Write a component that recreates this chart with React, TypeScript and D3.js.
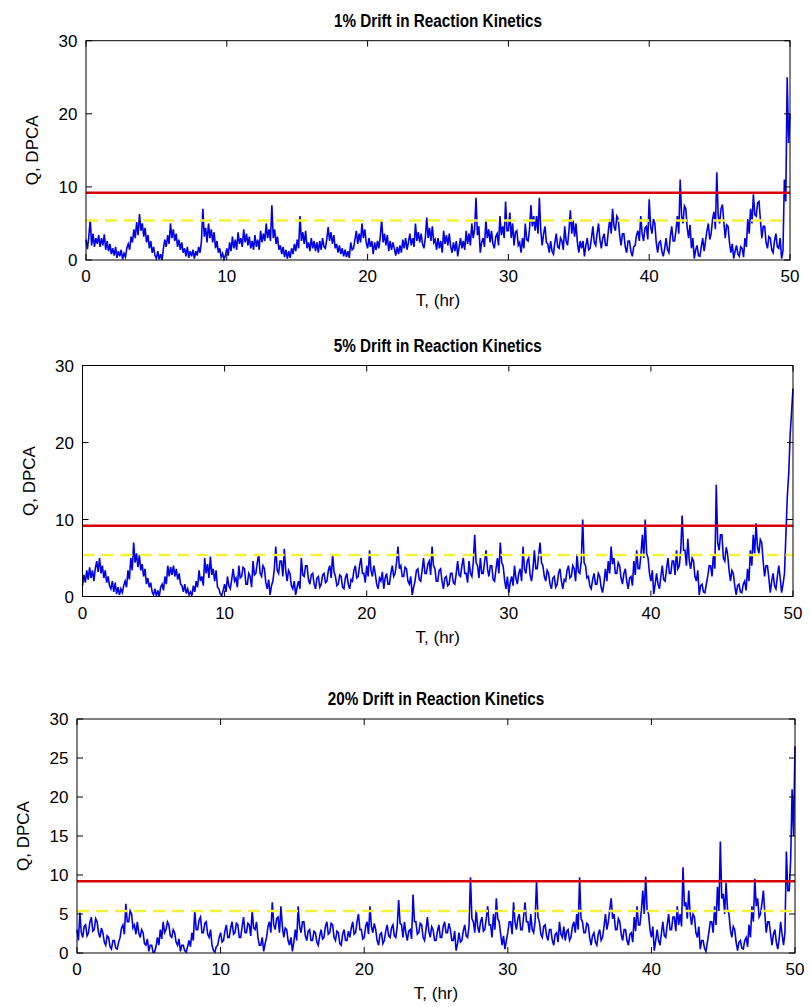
import React, { useEffect } from 'react';
import * as d3 from 'd3';

// ---------- data ----------
const T_STEP_HR = 0.1; // sample spacing of the series below, hours (one row = one hour)
const xTicks = [0, 10, 20, 30, 40, 50];
const yTicksCoarse = [0, 10, 20, 30];
const yTicksFine = [0, 5, 10, 15, 20, 25, 30];
const titles = [
  '1% Drift in Reaction Kinetics',
  '5% Drift in Reaction Kinetics',
  '20% Drift in Reaction Kinetics',
];
const xLabel = 'T, (hr)';
const yLabel = 'Q, DPCA';
const qLimit99 = 9.2; // red solid control limit
const qLimit95 = 5.4; // yellow dashed control limit

const q1 = [
  2.8, 1.5, 3.2, 5.5, 2.0, 3.6, 1.8, 3.0, 2.2, 3.4,
  1.8, 3.0, 2.0, 3.5, 1.4, 2.6, 1.2, 2.2, 0.8, 1.6,
  0.6, 1.8, 0.3, 1.2, 0.5, 1.4, 0.1, 0.9, 0.4, 1.6,
  2.2, 1.4, 3.2, 2.4, 4.2, 3.0, 5.2, 3.4, 6.3, 4.0,
  5.0, 3.2, 4.4, 2.4, 3.4, 1.6, 2.6, 1.0, 1.8, 0.6,
  0.2, 1.2, 0.1, 0.8, 0.0, 1.6, 2.8, 1.8, 3.4, 2.2,
  5.0, 3.0, 4.2, 2.6, 3.6, 1.8, 2.8, 1.4, 2.4, 1.0,
  1.6, 0.5, 1.8, 0.3, 1.2, 0.5, 1.4, 0.2, 1.2, 0.6,
  1.8, 1.0, 2.6, 7.0, 3.2, 4.4, 2.4, 5.0, 3.0, 4.2,
  2.4, 3.8, 1.6, 2.6, 1.0, 1.6, 0.4, 0.9, 0.1, 0.6,
  1.6, 0.6, 2.4, 1.2, 3.2, 1.6, 2.8, 1.4, 3.8, 2.2,
  3.0, 1.8, 4.2, 2.4, 3.6, 2.0, 3.2, 1.6, 2.6, 1.4,
  3.4, 1.8, 2.8, 1.4, 4.0, 2.4, 3.6, 2.6, 5.0, 3.0,
  4.2, 2.6, 7.5, 3.0, 4.2, 2.2, 3.2, 1.4, 2.0, 0.8,
  1.8, 0.4, 1.4, 0.2, 1.2, 0.3, 1.6, 0.8, 2.2, 1.2,
  2.8, 1.6, 6.0, 2.6, 3.8, 2.2, 4.0, 1.6, 2.4, 1.2,
  3.0, 1.6, 2.6, 1.2, 2.4, 1.0, 2.6, 1.4, 3.0, 1.8,
  1.6, 2.8, 4.5, 2.6, 3.8, 2.2, 3.4, 1.6, 2.2, 1.0,
  2.0, 0.8, 1.6, 0.5, 1.4, 0.4, 1.2, 0.3, 2.4, 1.4,
  1.6, 2.8, 4.0, 2.2, 3.6, 2.4, 5.0, 3.0, 4.2, 2.4,
  1.6, 3.0, 1.8, 2.6, 0.8, 2.4, 1.4, 2.6, 1.6, 3.2,
  5.5, 2.4, 3.6, 2.0, 3.4, 1.2, 2.6, 1.4, 2.4, 1.6,
  0.6, 1.8, 0.8, 2.0, 1.0, 2.8, 1.6, 3.0, 1.4, 2.4,
  3.6, 2.0, 3.0, 1.8, 5.0, 2.6, 3.8, 2.4, 3.6, 2.2,
  1.6, 3.0, 5.8, 3.0, 4.4, 2.6, 4.6, 2.4, 2.8, 1.4,
  3.0, 1.6, 2.6, 1.0, 4.0, 2.2, 3.4, 2.0, 3.6, 1.8,
  1.0, 2.4, 1.2, 2.6, 0.5, 1.8, 3.0, 1.6, 2.6, 1.4,
  4.0, 2.2, 3.6, 2.0, 5.0, 3.0, 4.2, 8.5, 3.4, 4.6,
  1.0, 2.4, 3.0, 1.8, 5.5, 3.0, 4.2, 2.4, 4.0, 2.2,
  1.6, 3.2, 3.6, 2.0, 6.0, 3.4, 4.6, 3.0, 8.0, 4.0,
  4.0, 6.5, 3.0, 5.0, 2.0, 3.8, 4.0, 2.0, 2.4, 1.0,
  3.0, 1.6, 5.0, 2.8, 2.6, 4.2, 7.5, 4.6, 6.0, 4.0,
  6.0, 3.6, 8.5, 4.0, 2.0, 3.6, 4.6, 2.4, 2.2, 1.0,
  2.6, 1.2, 0.8, 2.4, 3.6, 1.8, 1.6, 3.0, 2.6, 1.4,
  4.6, 2.6, 2.0, 4.0, 6.8, 3.6, 5.4, 3.2, 5.0, 2.4,
  1.0, 2.6, 1.6, 2.6, 0.5, 2.0, 3.0, 1.4, 1.6, 3.0,
  4.6, 2.4, 2.0, 3.6, 5.0, 2.8, 1.6, 3.0, 3.6, 2.0,
  2.0, 4.0, 5.6, 3.6, 7.0, 4.6, 4.0, 6.0, 5.6, 3.4,
  2.0, 3.6, 3.6, 1.8, 1.0, 2.6, 2.6, 1.2, 0.5, 1.8,
  2.0, 3.4, 4.0, 2.6, 6.0, 3.6, 2.6, 4.4, 4.6, 2.8,
  8.3, 4.6, 3.6, 5.6, 5.0, 2.4, 1.0, 2.4, 2.6, 1.2,
  0.5, 1.6, 3.0, 1.4, 1.0, 3.2, 4.6, 2.6, 2.6, 4.0,
  6.0, 3.6, 11.0, 6.0, 5.0, 7.4, 7.0, 4.4, 3.0, 4.8,
  1.6, 3.0, 0.2, 1.4, 2.0, 0.6, 0.5, 1.8, 3.0, 1.2,
  2.6, 4.0, 5.0, 2.8, 3.6, 5.6, 6.6, 4.2, 12.0, 6.0,
  5.0, 7.0, 7.6, 5.2, 3.0, 4.8, 4.6, 2.4, 1.0, 2.2,
  0.2, 1.2, 2.0, 0.8, 0.5, 1.8, 1.6, 0.4, 3.0, 1.8,
  5.6, 3.6, 7.0, 5.0, 9.0, 6.2, 6.0, 7.8, 8.0, 5.4,
  3.0, 4.6, 4.6, 2.4, 1.6, 3.2, 3.0, 1.4, 1.0, 2.6,
  3.6, 1.8, 1.6, 3.0, 0.2, 1.2, 11.0, 8.0, 25.0, 16.0,
  20.0,
];

const q2 = [
  1.4, 2.8, 1.8, 3.4, 2.2, 3.8, 2.4, 3.4, 2.0, 3.6,
  4.6, 3.2, 5.0, 3.0, 4.0, 2.4, 3.4, 1.8, 2.6, 1.4,
  1.0, 2.0, 0.6, 1.8, 0.3, 1.2, 0.2, 1.0, 0.5, 1.4,
  2.0, 1.2, 3.4, 2.2, 5.0, 3.4, 7.0, 4.4, 5.6, 3.8,
  5.4, 3.4, 4.2, 2.6, 3.6, 1.6, 2.4, 1.2, 1.8, 0.6,
  0.2, 1.0, 0.1, 0.8, 0.0, 1.2, 1.6, 0.8, 2.6, 1.6,
  4.0, 2.6, 3.8, 2.8, 4.0, 2.6, 3.6, 2.2, 3.0, 1.6,
  1.4, 0.6, 1.6, 0.4, 1.0, 0.2, 0.6, 0.1, 1.4, 0.6,
  2.0, 1.2, 3.4, 2.0, 2.6, 1.4, 5.0, 3.0, 4.2, 2.4,
  5.2, 2.8, 3.6, 2.0, 3.4, 1.2, 1.0, 0.3, 0.1, 0.8,
  1.6, 0.6, 2.6, 1.4, 1.0, 2.2, 3.6, 2.0, 2.4, 1.2,
  4.0, 2.4, 2.6, 3.8, 3.6, 1.6, 1.6, 3.0, 2.6, 1.2,
  4.6, 2.8, 3.0, 4.4, 5.5, 3.0, 2.6, 4.0, 3.6, 1.8,
  1.0, 2.2, 0.2, 1.4, 2.0, 3.6, 6.5, 3.4, 3.0, 4.6,
  4.6, 2.6, 6.2, 3.4, 2.0, 3.4, 3.0, 1.4, 1.0, 2.0,
  0.2, 1.2, 2.0, 1.0, 5.0, 2.8, 2.6, 4.0, 4.0, 2.2,
  1.6, 2.8, 3.0, 1.6, 1.0, 2.4, 2.6, 1.2, 1.6, 2.8,
  3.0, 1.8, 2.0, 3.4, 4.0, 2.4, 5.5, 3.2, 2.6, 1.4,
  1.6, 2.8, 2.6, 1.2, 1.0, 2.4, 3.0, 1.6, 1.0, 2.2,
  2.0, 3.4, 4.0, 2.4, 2.6, 4.0, 5.0, 3.0, 3.0, 1.8,
  4.0, 2.6, 6.0, 3.4, 2.6, 4.0, 3.0, 1.6, 1.0, 2.4,
  2.0, 3.2, 1.0, 2.4, 3.0, 1.6, 1.6, 3.0, 4.0, 2.6,
  3.0, 4.4, 6.5, 3.6, 4.0, 2.6, 2.6, 3.8, 3.6, 2.0,
  1.6, 2.6, 0.2, 1.2, 2.0, 3.4, 3.6, 2.2, 2.0, 3.4,
  5.0, 3.0, 3.0, 4.2, 4.6, 2.8, 6.5, 4.0, 3.6, 2.0,
  2.0, 3.4, 3.6, 2.0, 1.0, 2.4, 2.6, 1.4, 1.6, 3.0,
  3.0, 1.8, 1.6, 3.0, 4.6, 2.8, 2.6, 4.0, 5.0, 3.0,
  3.0, 1.8, 4.6, 3.0, 2.6, 4.4, 8.0, 4.4, 4.0, 2.4,
  5.0, 3.0, 3.0, 4.6, 6.0, 3.6, 2.6, 4.0, 4.0, 2.2,
  2.0, 3.6, 5.0, 3.0, 7.0, 4.4, 4.0, 2.2, 1.0, 2.6,
  0.5, 1.8, 2.6, 1.4, 4.0, 2.4, 1.6, 3.0, 3.6, 2.0,
  6.5, 3.6, 3.0, 4.6, 5.0, 2.8, 2.0, 3.6, 6.0, 3.6,
  3.6, 5.4, 7.0, 4.4, 4.0, 2.6, 2.0, 3.4, 3.0, 1.6,
  1.0, 2.4, 2.6, 1.2, 1.6, 3.0, 3.6, 2.0, 1.0, 2.2,
  2.0, 3.4, 4.0, 2.4, 2.6, 4.0, 3.6, 2.0, 5.5, 3.2,
  3.0, 4.6, 10.0, 4.4, 4.0, 2.4, 2.6, 1.4, 1.0, 2.2,
  3.0, 1.6, 1.6, 3.0, 2.6, 1.2, 0.5, 1.8, 3.6, 2.0,
  4.6, 3.0, 6.5, 4.2, 5.0, 3.0, 3.0, 4.4, 4.0, 2.4,
  1.6, 3.0, 3.6, 2.0, 1.0, 2.4, 2.6, 1.4, 4.6, 2.8,
  6.0, 3.6, 3.6, 5.4, 8.0, 5.0, 10.0, 5.6, 5.0, 3.0,
  2.0, 3.4, 0.3, 1.6, 3.0, 1.6, 1.0, 2.6, 4.0, 2.2,
  2.0, 3.6, 5.0, 3.0, 3.0, 4.6, 4.6, 2.8, 6.0, 3.6,
  4.0, 6.0, 10.5, 6.0, 6.0, 4.0, 7.5, 4.6, 3.6, 5.0,
  4.6, 2.6, 2.0, 3.4, 0.2, 1.4, 1.6, 0.6, 0.5, 1.6,
  2.6, 4.0, 4.0, 2.6, 5.5, 3.6, 14.5, 7.0, 6.0, 8.0,
  8.0, 5.0, 4.6, 6.4, 5.5, 3.4, 2.0, 3.4, 3.0, 1.4,
  0.2, 1.4, 1.6, 0.6, 0.5, 1.6, 2.0, 0.8, 3.6, 2.0,
  6.0, 4.0, 8.0, 5.6, 9.5, 6.4, 5.6, 7.4, 7.0, 4.6,
  2.6, 4.0, 4.0, 2.4, 0.5, 2.0, 3.0, 1.4, 1.0, 2.6,
  4.0, 2.4, 0.5, 1.6, 3.0, 8.0, 13.0, 16.0, 21.0, 24.0,
  27.0,
];

const q3 = [
  3.0, 1.6, 5.2, 2.6, 2.0, 3.4, 3.6, 2.2, 2.6, 4.0,
  4.6, 2.8, 3.0, 4.4, 4.0, 2.6, 2.0, 3.2, 2.6, 1.4,
  1.0, 2.2, 2.0, 0.8, 0.5, 1.6, 1.6, 0.6, 0.5, 1.4,
  2.0, 3.2, 3.6, 2.4, 6.3, 4.0, 4.0, 5.4, 5.0, 3.2,
  3.6, 2.4, 4.0, 2.6, 2.0, 3.0, 2.6, 1.2, 1.0, 1.8,
  0.2, 1.0, 1.0, 0.1, 0.1, 0.8, 2.0, 1.0, 3.0, 1.8,
  4.0, 2.6, 3.0, 4.0, 3.6, 2.2, 2.0, 3.0, 2.6, 1.4,
  1.0, 1.8, 0.2, 1.0, 1.0, 0.3, 0.1, 0.8, 1.6, 0.8,
  2.6, 1.6, 5.5, 3.0, 3.0, 4.2, 4.6, 2.6, 2.6, 3.8,
  4.0, 2.4, 2.0, 3.0, 1.0, 0.3, 0.1, 0.8, 1.0, 2.0,
  2.6, 1.4, 1.6, 2.8, 3.6, 2.0, 2.0, 3.2, 4.0, 2.4,
  2.6, 3.8, 3.6, 2.0, 2.0, 3.4, 4.6, 2.6, 2.6, 3.8,
  3.6, 2.2, 5.5, 3.2, 3.0, 4.0, 2.0, 1.0, 1.0, 2.0,
  0.2, 1.2, 2.0, 3.4, 4.0, 2.6, 6.5, 3.6, 3.0, 4.4,
  4.6, 2.6, 6.0, 3.4, 2.0, 3.2, 3.0, 1.6, 1.0, 2.0,
  0.2, 1.4, 3.0, 1.6, 6.0, 3.4, 2.6, 4.0, 4.0, 2.2,
  1.6, 2.8, 3.0, 1.6, 1.6, 2.8, 2.6, 1.4, 1.0, 2.2,
  3.0, 1.8, 2.0, 3.4, 4.0, 2.4, 2.6, 3.8, 3.6, 2.0,
  1.6, 2.8, 2.6, 1.2, 1.0, 2.4, 3.0, 1.6, 1.6, 2.8,
  2.0, 3.2, 4.0, 2.4, 2.6, 4.0, 5.0, 3.0, 3.0, 1.8,
  2.0, 3.4, 4.0, 2.4, 6.0, 3.4, 2.6, 3.8, 3.0, 1.6,
  1.0, 2.4, 2.6, 1.2, 1.6, 2.8, 3.6, 2.2, 2.0, 3.2,
  3.6, 2.2, 2.0, 3.4, 6.8, 3.8, 3.6, 2.0, 4.0, 2.6,
  1.6, 2.8, 3.0, 1.8, 7.5, 4.0, 4.0, 2.4, 2.6, 3.8,
  3.6, 2.0, 1.6, 3.0, 4.6, 2.8, 2.0, 3.4, 3.0, 1.6,
  1.6, 2.8, 3.6, 2.0, 2.0, 3.4, 4.0, 2.6, 2.6, 3.8,
  3.0, 1.6, 1.6, 2.8, 0.3, 1.2, 2.6, 1.4, 1.6, 2.8,
  3.6, 2.2, 2.0, 3.4, 9.7, 4.4, 4.0, 2.6, 5.5, 3.4,
  2.6, 4.0, 4.6, 2.8, 3.0, 4.4, 6.0, 3.6, 3.6, 2.0,
  5.0, 3.0, 7.0, 4.4, 4.0, 2.4, 1.0, 2.2, 0.5, 1.6,
  2.6, 4.0, 4.0, 2.4, 6.5, 4.0, 3.0, 4.4, 5.0, 3.0,
  3.0, 4.6, 6.5, 4.0, 4.0, 2.6, 5.0, 3.0, 2.6, 4.0,
  9.3, 4.6, 4.0, 2.4, 2.0, 3.4, 3.6, 2.2, 1.6, 3.0,
  3.0, 1.6, 1.0, 2.4, 2.6, 1.4, 4.0, 2.4, 2.0, 3.4,
  1.6, 2.8, 3.0, 1.6, 2.0, 3.4, 4.0, 2.6, 5.0, 3.0,
  9.7, 4.4, 4.0, 2.6, 2.6, 3.8, 3.6, 2.0, 1.0, 2.2,
  2.6, 1.4, 1.0, 2.4, 3.0, 1.6, 2.0, 3.4, 5.0, 3.0,
  4.0, 5.6, 7.0, 4.4, 5.0, 3.0, 3.0, 4.4, 4.0, 2.4,
  1.6, 3.0, 3.0, 1.6, 1.0, 2.4, 2.6, 1.4, 4.6, 2.8,
  6.0, 3.6, 3.6, 5.4, 8.0, 5.0, 9.8, 5.6, 5.0, 3.0,
  2.0, 3.4, 0.3, 1.6, 3.0, 1.6, 1.0, 2.6, 4.0, 2.2,
  2.0, 3.6, 5.0, 3.0, 3.0, 4.6, 4.6, 2.8, 6.0, 3.6,
  5.0, 3.4, 11.0, 6.0, 6.5, 4.4, 8.0, 5.0, 3.6, 5.0,
  4.6, 2.6, 2.0, 3.4, 0.5, 1.6, 1.6, 0.6, 0.2, 1.4,
  2.6, 4.0, 4.0, 2.6, 6.0, 3.6, 8.5, 5.4, 14.3, 7.0,
  7.6, 5.0, 9.0, 5.6, 5.0, 3.0, 2.0, 3.4, 3.0, 1.4,
  0.3, 1.4, 1.6, 0.6, 0.5, 1.6, 2.0, 0.8, 3.6, 2.0,
  6.0, 4.0, 9.5, 6.0, 7.0, 4.6, 5.0, 6.4, 8.0, 5.0,
  2.6, 4.0, 4.0, 2.4, 1.0, 2.4, 3.0, 1.4, 0.5, 1.8,
  4.0, 2.4, 1.0, 2.6, 13.0, 8.0, 8.0, 12.0, 21.0, 15.0,
  26.5,
];

// ---------- layout ----------
const W = 811;
const H = 1007;
const panels = [
  { series: q1, yTicks: yTicksCoarse, left: 86, right: 790, top: 40.7, bottom: 260, titleY: 26.5 },
  { series: q2, yTicks: yTicksCoarse, left: 82.5, right: 793, top: 365.5, bottom: 596.5, titleY: 352 },
  { series: q3, yTicks: yTicksFine, left: 77, right: 795, top: 719, bottom: 953, titleY: 705 },
];

const FONT = "'Liberation Sans', Arial, Helvetica, sans-serif";
const TITLE_FONT = "'Liberation Sans Narrow', 'Arial Narrow', 'Liberation Sans', Arial, sans-serif";
const TICK_LEN = 6;

function Panel({ p, title }: { p: any; title: string }) {
  const x = d3.scaleLinear().domain([0, 50]).range([p.left, p.right]);
  const y = d3.scaleLinear().domain([0, 30]).range([p.bottom, p.top]);
  const line = d3
    .line<number>()
    .x((_d, i) => x(i * T_STEP_HR))
    .y((d) => y(d));
  const cx = (p.left + p.right) / 2;
  const cy = (p.top + p.bottom) / 2;
  return (
    <g>
      <text
        transform={`translate(${cx},${p.titleY}) scale(0.9,1.1)`}
        textAnchor="middle"
        fontFamily={TITLE_FONT}
        fontWeight="bold"
        fontSize={17}
        fill="#000"
      >
        {title}
      </text>
      <path
        d={line(p.series) || ''}
        fill="none"
        stroke="#0000e6"
        strokeWidth={1.6}
        strokeLinejoin="miter"
      />
      <line
        x1={x(0)}
        x2={x(50)}
        y1={y(qLimit95)}
        y2={y(qLimit95)}
        stroke="#f2f23a"
        strokeWidth={2.5}
        strokeDasharray="12 7"
      />
      <line x1={x(0)} x2={x(50)} y1={y(qLimit99)} y2={y(qLimit99)} stroke="#d80000" strokeWidth={2.5} />
      <rect
        x={p.left}
        y={p.top}
        width={p.right - p.left}
        height={p.bottom - p.top}
        fill="none"
        stroke="#000"
        strokeWidth={1}
      />
      {xTicks.map((t) => (
        <g key={'x' + t}>
          <line x1={x(t)} x2={x(t)} y1={p.bottom} y2={p.bottom - TICK_LEN} stroke="#000" />
          <line x1={x(t)} x2={x(t)} y1={p.top} y2={p.top + TICK_LEN} stroke="#000" />
          <text
            x={x(t)}
            y={p.bottom + 22}
            textAnchor="middle"
            fontFamily={FONT}
            fontSize={17}
            fill="#000"
          >
            {t}
          </text>
        </g>
      ))}
      {p.yTicks.map((t: number) => (
        <g key={'y' + t}>
          <line x1={p.left} x2={p.left + TICK_LEN} y1={y(t)} y2={y(t)} stroke="#000" />
          <line x1={p.right} x2={p.right - TICK_LEN} y1={y(t)} y2={y(t)} stroke="#000" />
          <text
            x={p.left - 8.5}
            y={y(t)}
            dy="0.36em"
            textAnchor="end"
            fontFamily={FONT}
            fontSize={17}
            fill="#000"
          >
            {t}
          </text>
        </g>
      ))}
      <text
        x={cx}
        y={p.bottom + 46}
        textAnchor="middle"
        fontFamily={FONT}
        fontSize={17}
        fill="#000"
      >
        {xLabel}
      </text>
      <text
        transform={`translate(${p.left - 48},${cy}) rotate(-90)`}
        textAnchor="middle"
        fontFamily={FONT}
        fontSize={17}
        fill="#000"
      >
        {yLabel}
      </text>
    </g>
  );
}

export default function App() {
  useEffect(() => {
    document.body.style.margin = '0';
  }, []);
  return (
    <svg
      width={W}
      height={H}
      viewBox={`0 0 ${W} ${H}`}
      style={{ position: 'absolute', left: 0, top: 0, background: '#fff' }}
    >
      <rect x={0} y={0} width={W} height={H} fill="#fff" />
      {panels.map((p, i) => (
        <Panel key={i} p={p} title={titles[i]} />
      ))}
    </svg>
  );
}
